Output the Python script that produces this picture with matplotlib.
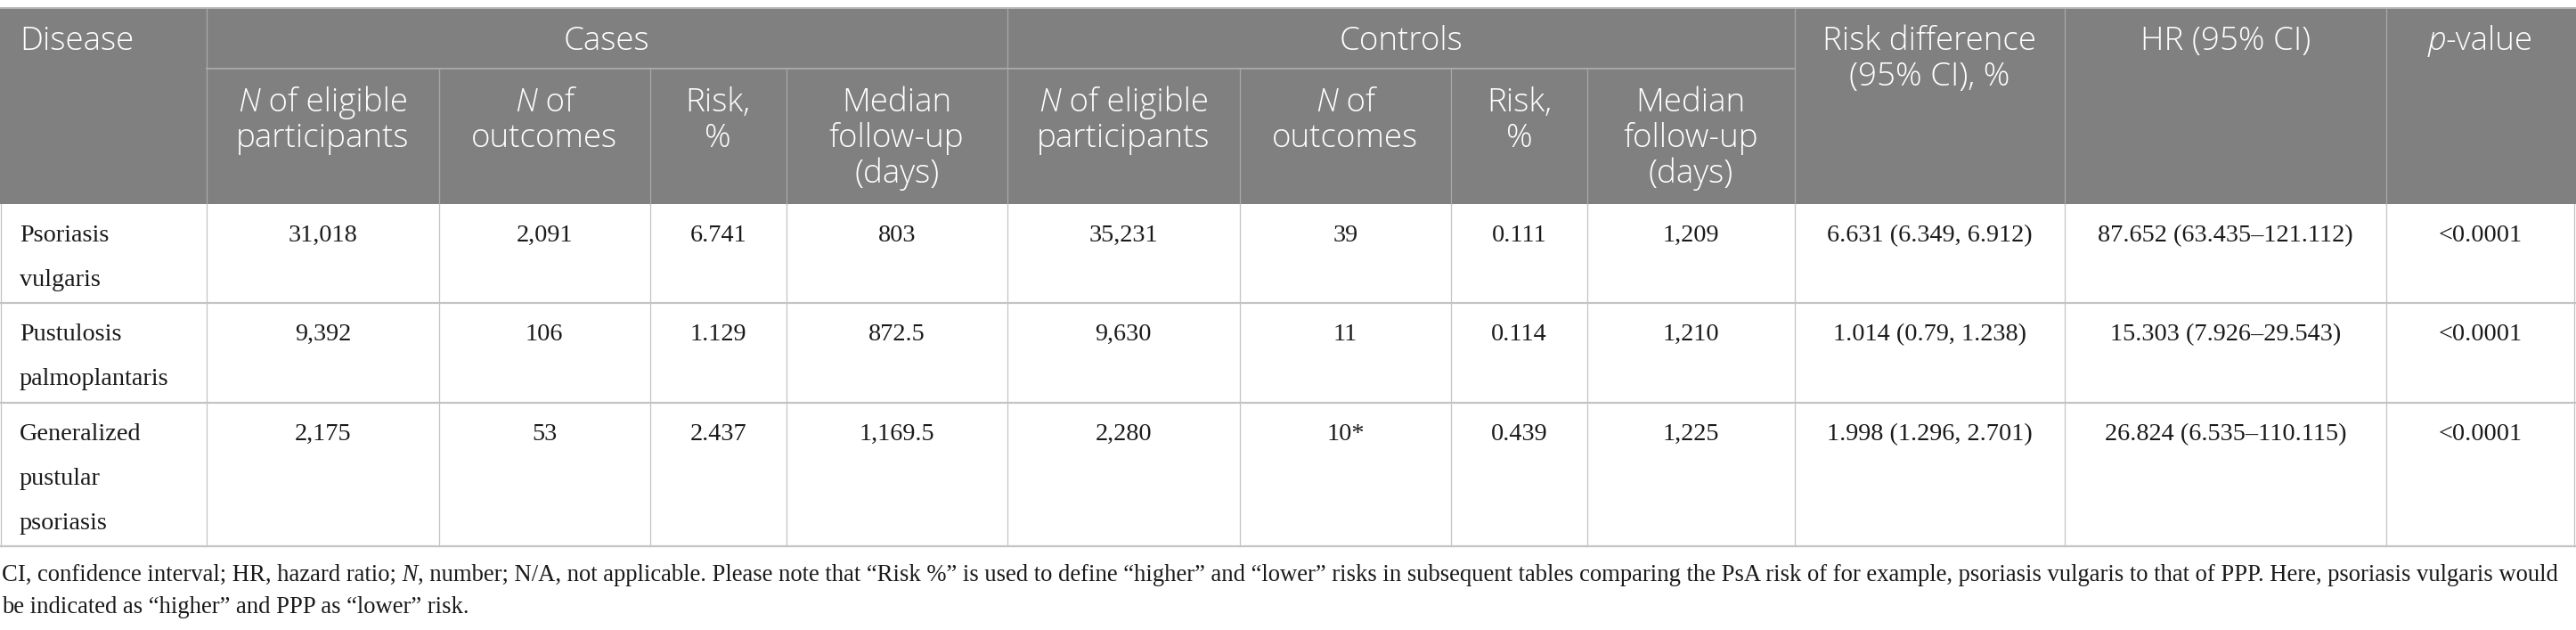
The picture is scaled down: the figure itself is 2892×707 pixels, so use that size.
import matplotlib
matplotlib.use("Agg")
import matplotlib.pyplot as plt
from matplotlib.patches import Rectangle

# ---------------- data ----------------
diseases = ["Psoriasis\nvulgaris", "Pustulosis\npalmoplantaris", "Generalized\npustular\npsoriasis"]
case_eligible = ["31,018", "9,392", "2,175"]
case_outcomes = ["2,091", "106", "53"]
case_risk = ["6.741", "1.129", "2.437"]
case_followup = ["803", "872.5", "1,169.5"]
ctrl_eligible = ["35,231", "9,630", "2,280"]
ctrl_outcomes = ["39", "11", "10*"]
ctrl_risk = ["0.111", "0.114", "0.439"]
ctrl_followup = ["1,209", "1,210", "1,225"]
risk_difference = ["6.631 (6.349, 6.912)", "1.014 (0.79, 1.238)", "1.998 (1.296, 2.701)"]
hazard_ratio = ["87.652 (63.435\u2013121.112)", "15.303 (7.926\u201329.543)", "26.824 (6.535\u2013110.115)"]
p_values = ["<0.0001", "<0.0001", "<0.0001"]

group_labels = ["Cases", "Controls"]
# '|' toggles italic
sub_headers = ["|N| of eligible\nparticipants", "|N| of\noutcomes", "Risk,\n%", "Median\nfollow-up\n(days)"]
top_headers = {"disease": "Disease", "rd": "Risk difference\n(95% CI), %", "hr": "HR (95% CI)", "p": "|p|-value"}
footnote = [
    "CI, confidence interval; HR, hazard ratio;| N|, number; N/A, not applicable. Please note that \u201cRisk %\u201d is used to define \u201chigher\u201d and \u201clower\u201d risks in subsequent tables comparing the PsA risk of for example, psoriasis vulgaris to that of PPP. Here, psoriasis vulgaris would",
    "be indicated as \u201chigher\u201d and PPP as \u201clower\u201d risk.",
]

# ---------------- layout ----------------
W, H, DPI = 2892, 707, 100
col_edges = [1, 231.5, 493, 729.6, 883, 1130.6, 1392, 1628.7, 1782, 2014.5, 2317.7, 2679, 2890]
y_top, y_sub, y_head = 9, 77, 229
row_tops = [229, 340, 452]
row_bottoms = [340, 452, 613]
HEADER_BG = "#7f807f"
HEAD_FONT = "Open Sans"
BODY_FONT = "Liberation Serif"
HEAD_SIZE = 26.5
BODY_SIZE = 20.3
FOOT_SIZE = 19.2

fig = plt.figure(figsize=(W / DPI, H / DPI), dpi=DPI)
ax = fig.add_axes([0, 0, 1, 1])
ax.set_xlim(0, W)
ax.set_ylim(H, 0)
ax.axis("off")
renderer = fig.canvas.get_renderer()


def draw_runs(line, x, y, ha, family, size, color, weight="normal"):
    parts = line.split("|")
    texts = []
    for i, p in enumerate(parts):
        if not p:
            continue
        t = ax.text(0, y, p, family=family, size=size, color=color, weight=weight,
                    style="italic" if i % 2 else "normal", va="baseline", ha="left")
        texts.append(t)
    widths = [t.get_window_extent(renderer).width for t in texts]
    total = sum(widths)
    start = x - total / 2 if ha == "center" else x
    for t, w in zip(texts, widths):
        t.set_x(start)
        start += w


def draw_cell(text, x, y0, spacing, ha, family, size, color, weight="normal"):
    for i, line in enumerate(text.split("\n")):
        draw_runs(line, x, y0 + i * spacing, ha, family, size, color, weight)


# header background
ax.add_patch(Rectangle((0, y_top), W, y_head - y_top, facecolor=HEADER_BG, edgecolor="none", zorder=0))
ax.plot([0, W], [y_top, y_top], color="#b8b8b8", lw=1.4, zorder=2)

# header grid lines
hc = "#a8a8a8"
for xe in [col_edges[1], col_edges[5], col_edges[9], col_edges[10], col_edges[11]]:
    ax.plot([xe, xe], [y_top, y_head], color=hc, lw=0.9, zorder=1)
for xe in col_edges[2:9]:
    if xe != col_edges[5]:
        ax.plot([xe, xe], [y_sub, y_head], color=hc, lw=0.9, zorder=1)
ax.plot([col_edges[1], col_edges[9]], [y_sub, y_sub], color=hc, lw=1.4, zorder=1)

# header texts
white = "white"
hw = "light"
hb1 = 56
hsp = 40
draw_cell(top_headers["disease"], 22, hb1, hsp, "left", HEAD_FONT, HEAD_SIZE, white, hw)
draw_cell(group_labels[0], (col_edges[1] + col_edges[5]) / 2, hb1, hsp, "center", HEAD_FONT, HEAD_SIZE, white, hw)
draw_cell(group_labels[1], (col_edges[5] + col_edges[9]) / 2, hb1, hsp, "center", HEAD_FONT, HEAD_SIZE, white, hw)
draw_cell(top_headers["rd"], (col_edges[9] + col_edges[10]) / 2, hb1, hsp, "center", HEAD_FONT, HEAD_SIZE, white, hw)
draw_cell(top_headers["hr"], (col_edges[10] + col_edges[11]) / 2, hb1, hsp, "center", HEAD_FONT, HEAD_SIZE, white, hw)
draw_cell(top_headers["p"], (col_edges[11] + col_edges[12]) / 2, hb1, hsp, "center", HEAD_FONT, HEAD_SIZE, white, hw)
for g in range(2):
    for j, sh in enumerate(sub_headers):
        c = 1 + g * 4 + j
        draw_cell(sh, (col_edges[c] + col_edges[c + 1]) / 2, 125, hsp, "center", HEAD_FONT, HEAD_SIZE, white, hw)

# body grid
bc = "#c4c4c4"
for yb in row_bottoms:
    ax.plot([0, W], [yb, yb], color=bc, lw=1.6, zorder=1)
for xe in col_edges:
    ax.plot([xe, xe], [y_head, row_bottoms[-1]], color=bc, lw=0.9, zorder=1)

# body texts
columns = [case_eligible, case_outcomes, case_risk, case_followup,
           ctrl_eligible, ctrl_outcomes, ctrl_risk, ctrl_followup,
           risk_difference, hazard_ratio, p_values]
txt = "#1a1a1a"
for r in range(len(diseases)):
    yb = row_tops[r] + 42
    draw_cell(diseases[r], 22, yb, 50, "left", BODY_FONT, BODY_SIZE, txt)
    for c, col in enumerate(columns):
        cx = (col_edges[c + 1] + col_edges[c + 2]) / 2
        draw_cell(col[r], cx, yb, 50, "center", BODY_FONT, BODY_SIZE, txt)

# footnote
for i, line in enumerate(footnote):
    draw_runs(line, 2, 652 + i * 36, "left", BODY_FONT, FOOT_SIZE, txt)

fig.savefig("out.png", dpi=DPI, facecolor="white")
